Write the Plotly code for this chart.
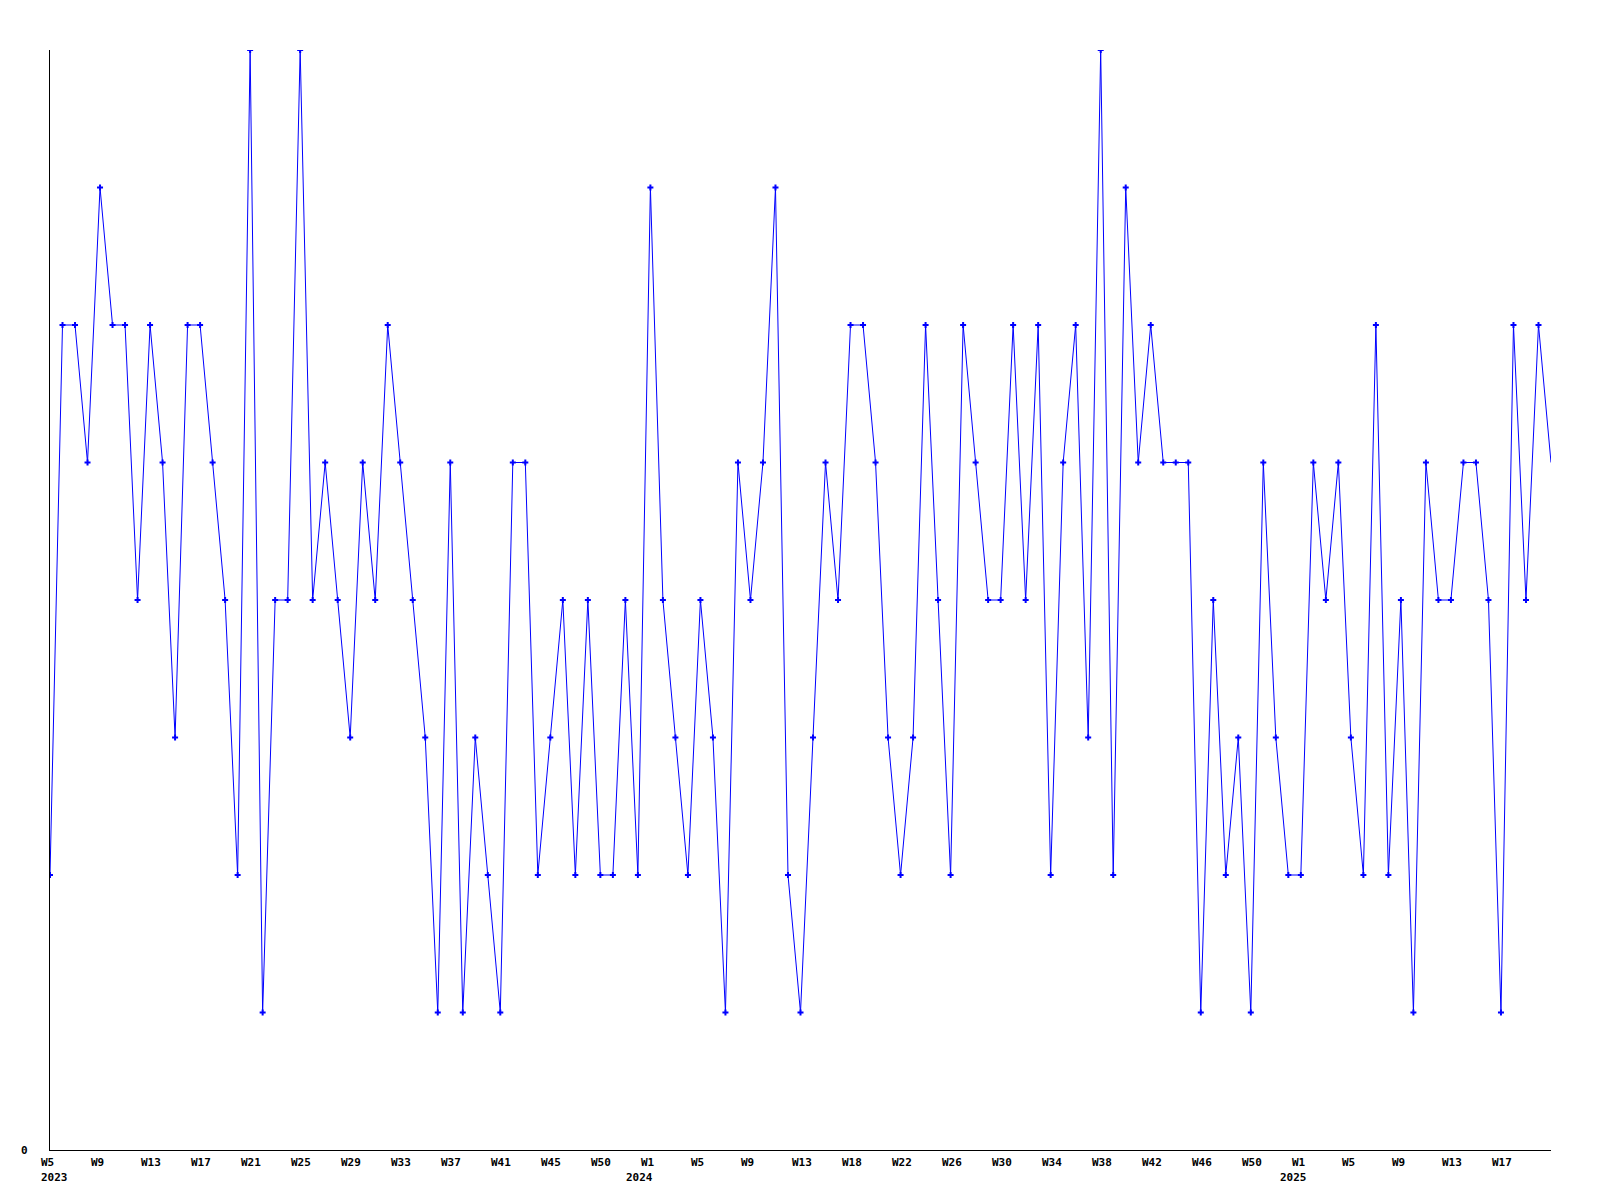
import pandas as pd
import plotly.graph_objects as go

# ---- data ----
start_week_end = "2023-02-05"  # Sunday ending ISO week 2023-W05
values = [
    2, 6, 6, 5, 7, 6, 6, 4, 6, 5,
    3, 6, 6, 5, 4, 2, 8, 1, 4, 4,
    8, 4, 5, 4, 3, 5, 4, 6, 5, 4,
    3, 1, 5, 1, 3, 2, 1, 5, 5, 2,
    3, 4, 2, 4, 2, 2, 4, 2, 7, 4,
    3, 2, 4, 3, 1, 5, 4, 5, 7, 2,
    1, 3, 5, 4, 6, 6, 5, 3, 2, 3,
    6, 4, 2, 6, 5, 4, 4, 6, 4, 6,
    2, 5, 6, 3, 8, 2, 7, 5, 6, 5,
    5, 5, 1, 4, 2, 3, 1, 5, 3, 2,
    2, 5, 4, 5, 3, 2, 6, 2, 4, 1,
    5, 4, 4, 5, 5, 4, 1, 6, 4, 6,
    5,
]
week_labels = [
    "W5", "W9", "W13", "W17", "W21", "W25", "W29", "W33", "W37", "W41", "W45", "W50",
    "W1", "W5", "W9", "W13", "W18", "W22", "W26", "W30", "W34", "W38", "W42", "W46", "W50",
    "W1", "W5", "W9", "W13", "W17",
]
year_labels = ["2023", "2024", "2025"]
label_step = 4

dates = pd.date_range(start_week_end, periods=len(values), freq="7D")

LINE_BLUE = "#0000FF"
FONT = dict(family="DejaVu Sans Mono", size=11, color="black", weight="bold")

fig = go.Figure()
fig.add_trace(go.Scatter(
    x=dates, y=values, mode="lines",
    line=dict(color=LINE_BLUE, width=1),
    hoverinfo="skip", showlegend=False,
))
fig.add_trace(go.Scatter(
    x=dates[:-1], y=values[:-1], mode="markers",
    marker=dict(symbol="cross", size=5, color=LINE_BLUE),
    showlegend=False,
))

annotations = []
tick_dates = dates[::label_step]
for d, lab in zip(tick_dates, week_labels):
    annotations.append(dict(
        x=d, y=0, xref="x", yref="paper", text=lab, showarrow=False,
        xanchor="left", yanchor="middle", xshift=-11, yshift=-12,
        font=FONT,
    ))
for yl in year_labels:
    jan1 = pd.Timestamp(f"{yl}-01-01")
    if jan1 < dates[0]:
        x, anchor, shift = dates[0], "left", -11
    else:
        x, anchor, shift = jan1, "center", 0
    annotations.append(dict(
        x=x, y=0, xref="x", yref="paper", text=yl, showarrow=False,
        xanchor=anchor, yanchor="middle", xshift=shift, yshift=-27,
        font=FONT,
    ))
annotations.append(dict(
    x=0, y=0, xref="paper", yref="y", text="0", showarrow=False,
    xanchor="right", yanchor="middle", xshift=-20, yshift=0, font=FONT,
))

# the page body adds an 8px offset, so margins are shifted to compensate
fig.update_layout(
    width=1600, height=1200,
    margin=dict(l=42, r=57, t=42, b=58),
    paper_bgcolor="white", plot_bgcolor="white",
    showlegend=False,
    annotations=annotations,
    xaxis=dict(
        range=[dates[0], dates[-1]], showgrid=False, zeroline=False,
        showline=True, linecolor="black", linewidth=1,
        showticklabels=False, ticks="",
    ),
    yaxis=dict(
        range=[0, 8], showgrid=False, zeroline=False,
        showline=True, linecolor="black", linewidth=1,
        showticklabels=False, ticks="",
    ),
)

fig.write_html("out.html")
